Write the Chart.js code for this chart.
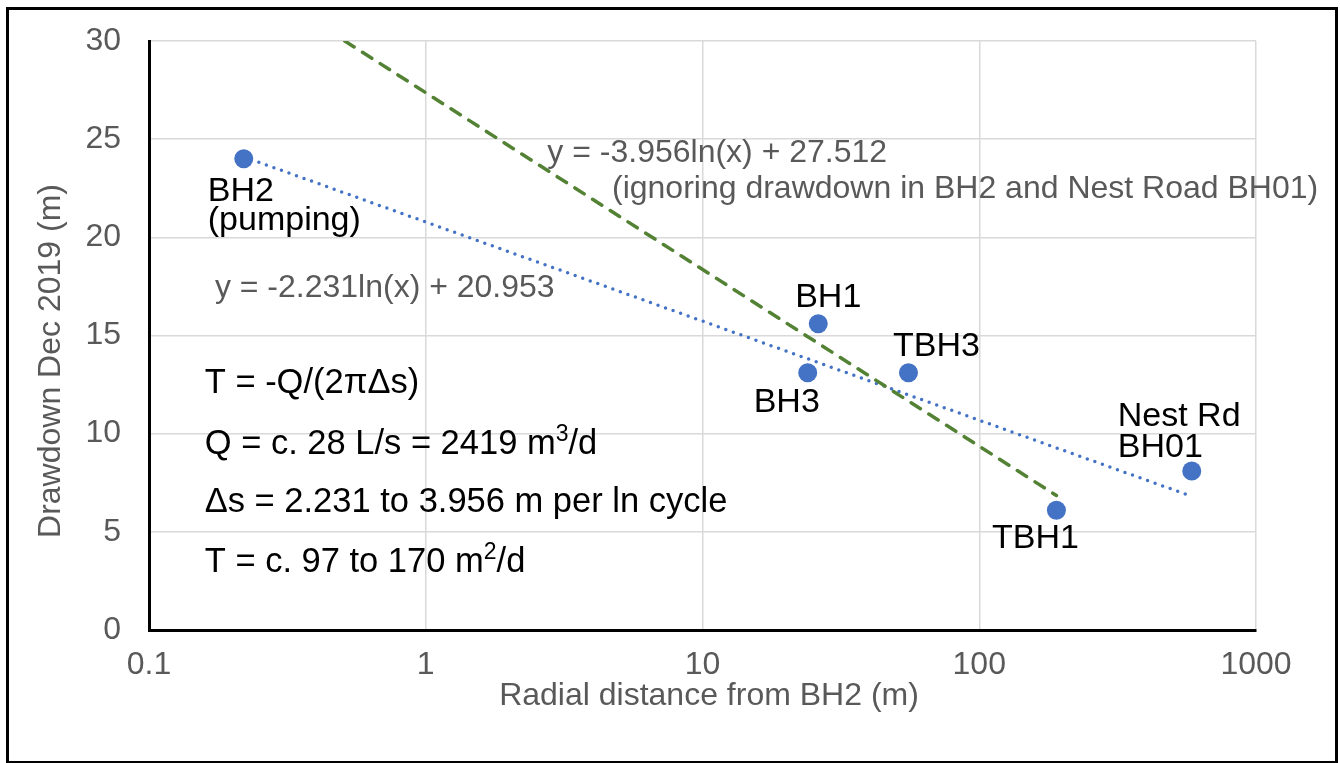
<!DOCTYPE html>
<html>
<head>
<meta charset="utf-8">
<script src="https://cdn.jsdelivr.net/npm/chart.js@4.4.1/dist/chart.umd.min.js"></script>
<style>
  html, body { margin: 0; padding: 0; background: #fff; overflow: hidden; }
  #wrap { position: relative; width: 1340px; height: 763px; }
  #frame { position: absolute; left: 6px; top: 7px; width: 1326px; height: 751px; border: 3px solid #000; pointer-events: none; }
  canvas { position: absolute; left: 0; top: 0; }
</style>
</head>
<body>
<div id="wrap">
  <canvas id="chart" width="1340" height="763"></canvas>
  <div id="frame"></div>
</div>
<script>
// wells and measured drawdown
const wells = ["BH2", "BH1", "BH3", "TBH3", "TBH1", "Nest Rd BH01"];
const distance = [0.22, 26.2, 24.0, 55.5, 190, 586];
const drawdown = [24.0, 15.6, 13.1, 13.1, 6.1, 8.1];
const labelLines = [["BH2", "(pumping)"], ["BH1"], ["BH3"], ["TBH3"], ["TBH1"], ["Nest Rd", "BH01"]];

// trendline end points
const allTrendX = [0.22, 575];
const allTrendY = [24.1, 6.85];
const subsetTrendX = [0.51, 190];
const subsetTrendY = [30, 6.85];

const xTicks = [0.1, 1, 10, 100, 1000];
const yTicks = [0, 5, 10, 15, 20, 25, 30];

const FONT = '"Liberation Sans", Arial, Helvetica, sans-serif';
const BLUE = "#4472C4";
const GREEN = "#548235";
const GREY = "#595959";

// label placement (pixel offsets from the marker)
const labelPlace = [
  { align: "left", dx: -36, dy: [42, 71] },
  { align: "center", dx: 10, dy: [-17] },
  { align: "center", dx: -21, dy: [39] },
  { align: "center", dx: 28, dy: [-17] },
  { align: "center", dx: -21, dy: [38] },
  { align: "left", dx: -74, dy: [-45, -14] }
];

const formulaNotes = [
  { x: 0.159, y: 12.09, segs: [{ t: "T = -Q/(2πΔs)" }] },
  { x: 0.159, y: 8.97, segs: [{ t: "Q = c. 28 L/s = 2419 m" }, { t: "3", sup: true }, { t: "/d" }] },
  { x: 0.159, y: 6.01, segs: [{ t: "Δs = 2.231 to 3.956 m per ln cycle" }] },
  { x: 0.159, y: 2.97, segs: [{ t: "T = c. 97 to 170 m" }, { t: "2", sup: true }, { t: "/d" }] }
];

function toPoints(xs, ys) {
  return xs.map((v, i) => ({ x: v, y: ys[i] }));
}

function drawRich(ctx, segs, x, yb, size) {
  let cx = x;
  segs.forEach((s) => {
    const fs = s.sup ? 23 : size;
    ctx.font = fs + "px " + FONT;
    ctx.fillText(s.t, cx, s.sup ? yb - 13 : yb);
    cx += ctx.measureText(s.t).width;
  });
}

const notes = {
  id: "notes",
  afterDraw(chart) {
    const { ctx } = chart;
    const xs = chart.scales.x;
    const ys = chart.scales.y;
    ctx.save();
    ctx.textBaseline = "alphabetic";

    // point labels
    ctx.fillStyle = "#000";
    ctx.font = "34px " + FONT;
    distance.forEach((d, i) => {
      const px = xs.getPixelForValue(d);
      const py = ys.getPixelForValue(drawdown[i]);
      const p = labelPlace[i];
      ctx.textAlign = p.align;
      labelLines[i].forEach((line, k) => ctx.fillText(line, px + p.dx, py + p.dy[k]));
    });

    // formula block
    ctx.textAlign = "left";
    formulaNotes.forEach((n) => {
      drawRich(ctx, n.segs, xs.getPixelForValue(n.x), ys.getPixelForValue(n.y), 34.5);
    });

    // trendline equations
    ctx.fillStyle = GREY;
    ctx.font = "32px " + FONT;
    ctx.fillText("y = -2.231ln(x) + 20.953", xs.getPixelForValue(0.173), ys.getPixelForValue(16.98));
    ctx.fillText("y = -3.956ln(x) + 27.512", xs.getPixelForValue(2.75), ys.getPixelForValue(23.85));
    ctx.fillText("(ignoring drawdown in BH2 and Nest Road BH01)", xs.getPixelForValue(4.71), ys.getPixelForValue(22.0));

    // axis titles
    ctx.font = "32px " + FONT;
    ctx.textAlign = "center";
    ctx.fillText("Radial distance from BH2 (m)", 709, 705);
    ctx.save();
    ctx.translate(60, 361);
    ctx.rotate(-Math.PI / 2);
    ctx.fillText("Drawdown Dec 2019 (m)", 0, 0);
    ctx.restore();

    ctx.restore();
  }
};

new Chart(document.getElementById("chart"), {
  type: "scatter",
  data: {
    datasets: [
      {
        label: "Drawdown",
        data: toPoints(distance, drawdown),
        backgroundColor: BLUE,
        borderWidth: 0,
        pointRadius: 9.5,
        order: 0
      },
      {
        label: "All wells",
        data: toPoints(allTrendX, allTrendY),
        showLine: true,
        borderColor: BLUE,
        borderWidth: 3.5,
        borderDash: [0, 8],
        borderCapStyle: "round",
        pointRadius: 0,
        order: 2
      },
      {
        label: "Subset",
        data: toPoints(subsetTrendX, subsetTrendY),
        showLine: true,
        borderColor: GREEN,
        borderWidth: 3.5,
        borderDash: [11, 10],
        borderCapStyle: "round",
        pointRadius: 0,
        order: 1
      }
    ]
  },
  options: {
    responsive: false,
    animation: false,
    layout: { padding: { left: 0, top: 41, right: 84, bottom: 0 } },
    plugins: { legend: { display: false }, tooltip: { enabled: false } },
    scales: {
      x: {
        type: "logarithmic",
        min: 0.1,
        max: 1000,
        afterBuildTicks: (s) => { s.ticks = xTicks.map((v) => ({ value: v })); },
        afterFit: (s) => { s.height = 133; },
        grid: { color: "#d9d9d9", lineWidth: 1.5, drawTicks: false },
        border: { color: "#000", width: 3 },
        ticks: {
          color: GREY,
          font: { family: FONT, size: 32 },
          padding: 16,
          maxRotation: 0,
          callback: (v) => String(v)
        }
      },
      y: {
        min: 0,
        max: 30,
        afterBuildTicks: (s) => { s.ticks = yTicks.map((v) => ({ value: v })); },
        afterFit: (s) => { s.width = 149; },
        grid: { color: "#d9d9d9", lineWidth: 1.5, drawTicks: false },
        border: { color: "#000", width: 3 },
        ticks: {
          color: GREY,
          font: { family: FONT, size: 32, lineHeight: 0.75 },
          padding: 28
        }
      }
    }
  },
  plugins: [notes]
});
</script>
</body>
</html>
